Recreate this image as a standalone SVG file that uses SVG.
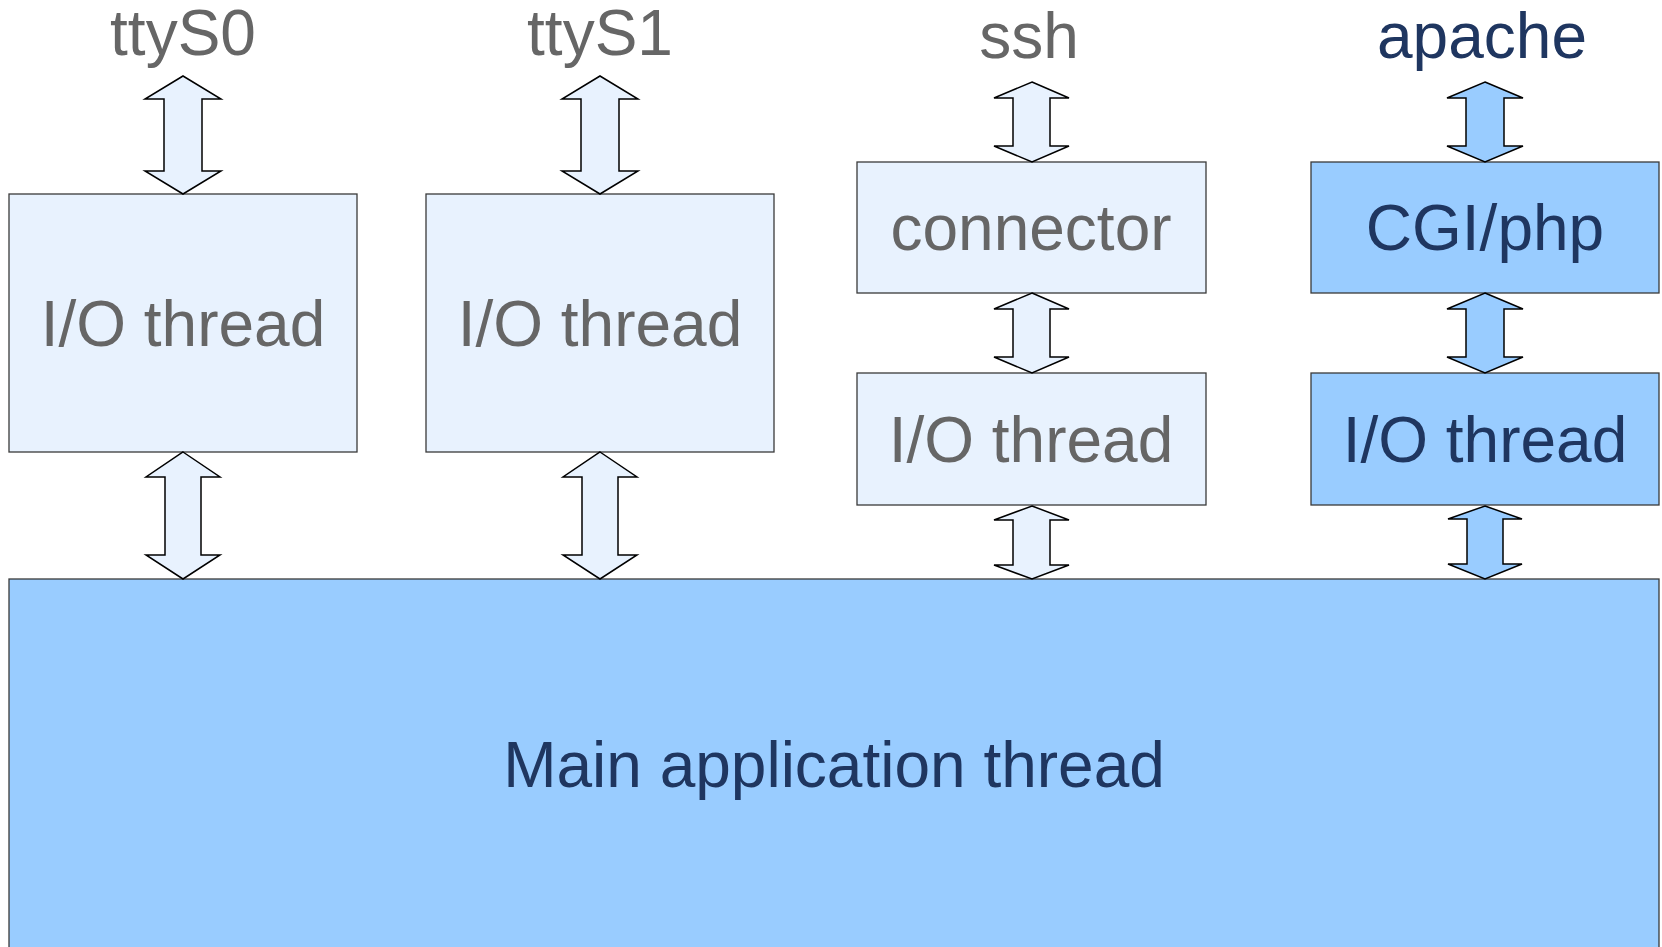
<svg xmlns="http://www.w3.org/2000/svg" width="1662" height="947" viewBox="0 0 1662 947">
  <style>
    .light { fill: #e8f2fe; stroke: #3a3a3a; stroke-width: 1.3; }
    .dark { fill: #99ccff; stroke: #3a3a3a; stroke-width: 1.3; }
    .arrow-light { fill: #e8f2fe; stroke: #000; stroke-width: 1.5; stroke-linejoin: miter; }
    .arrow-dark { fill: #99ccff; stroke: #000; stroke-width: 1.5; stroke-linejoin: miter; }
    text { font-family: "Liberation Sans", Arial, sans-serif; font-size: 64px; text-anchor: middle; }
    .grey { fill: #666666; }
    .navy { fill: #1f3660; }
  </style>
  <rect width="1662" height="947" fill="#ffffff"/>

  <!-- external endpoints -->
  <g id="label-ttyS0"><text class="grey" x="183" y="55">ttyS0</text></g>
  <g id="label-ttyS1"><text class="grey" x="600" y="55">ttyS1</text></g>
  <g id="label-ssh"><text class="grey" x="1029" y="58">ssh</text></g>
  <g id="label-apache"><text class="navy" x="1482" y="58">apache</text></g>

  <!-- thread boxes -->
  <g id="io-ttyS0">
    <rect class="light" x="9" y="194" width="348" height="258"/>
    <text class="grey" x="183" y="346">I/O thread</text>
  </g>
  <g id="io-ttyS1">
    <rect class="light" x="426" y="194" width="348" height="258"/>
    <text class="grey" x="600" y="346">I/O thread</text>
  </g>
  <g id="ssh-connector">
    <rect class="light" x="857" y="162" width="349" height="131"/>
    <text class="grey" x="1031" y="250">connector</text>
  </g>
  <g id="io-ssh">
    <rect class="light" x="857" y="373" width="349" height="132"/>
    <text class="grey" x="1031" y="462">I/O thread</text>
  </g>
  <g id="cgi-php">
    <rect class="dark" x="1311" y="162" width="348" height="131"/>
    <text class="navy" x="1485" y="250">CGI/php</text>
  </g>
  <g id="io-apache">
    <rect class="dark" x="1311" y="373" width="348" height="132"/>
    <text class="navy" x="1485" y="462">I/O thread</text>
  </g>
  <g id="main-thread">
    <rect class="dark" x="9" y="579" width="1650" height="380"/>
    <text class="navy" x="834" y="787">Main application thread</text>
  </g>

  <!-- double-headed block arrows -->
  <g id="connectors">
    <polygon class="arrow-light" points="183,76 221,99 202,99 202,171 221,171 183,194 145,171 164,171 164,99 145,99"/>
    <polygon class="arrow-light" points="183,452 220,477 201,477 201,555 220,555 183,579 146,555 165,555 165,477 146,477"/>
    <polygon class="arrow-light" points="600,76 638,99 619,99 619,171 638,171 600,194 562,171 581,171 581,99 562,99"/>
    <polygon class="arrow-light" points="600,452 637,477 618,477 618,555 637,555 600,579 563,555 582,555 582,477 563,477"/>
    <polygon class="arrow-light" points="1032,82 1069,98 1050,98 1050,146 1069,146 1032,162 994,146 1013,146 1013,98 994,98"/>
    <polygon class="arrow-light" points="1032,293 1069,309 1050,309 1050,357 1069,357 1032,373 994,357 1013,357 1013,309 994,309"/>
    <polygon class="arrow-light" points="1032,506 1069,520 1050,520 1050,565 1069,565 1032,579 994,565 1013,565 1013,520 994,520"/>
    <polygon class="arrow-dark" points="1485,82 1523,98 1504,98 1504,146 1523,146 1485,162 1447,146 1466,146 1466,98 1447,98"/>
    <polygon class="arrow-dark" points="1485,293 1523,309 1504,309 1504,357 1523,357 1485,373 1447,357 1466,357 1466,309 1447,309"/>
    <polygon class="arrow-dark" points="1485,506 1522,519 1503,519 1503,564 1522,564 1485,579 1448,564 1467,564 1467,519 1448,519"/>
  </g>
</svg>
